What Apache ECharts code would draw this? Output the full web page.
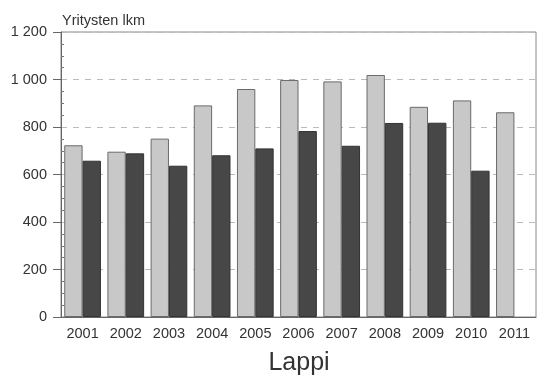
<!DOCTYPE html>
<html><head><meta charset="utf-8">
<script src="https://cdn.jsdelivr.net/npm/echarts@6/dist/echarts.min.js"></script>
<style>html,body{margin:0;padding:0;background:#fff}#c{width:540px;height:379px}</style>
</head><body><div id="c"></div>
<script>
const categories = ['2001','2002','2003','2004','2005','2006','2007','2008','2009','2010','2011'];
const seriesLight = [723, 696, 751, 891, 960, 998, 992, 1019, 885, 912, 862];
const seriesDark = [658, 689, 637, 681, 710, 783, 721, 817, 818, 616, null];
const yTicks = [0, 200, 400, 600, 800, 1000, 1200];

const fmt = v => String(v).replace(/\B(?=(\d{3})+(?!\d))/g, ' ');
const chart = echarts.init(document.getElementById('c'));
chart.setOption({
  animation: false,
  backgroundColor: '#fff',
  title: [
    {text: 'Yritysten lkm', left: 57, top: 8, textStyle: {fontFamily: 'Liberation Sans, Arial', fontSize: 14.5, fontWeight: 'normal', color: '#333'}},
    {text: 'Lappi', left: 294, top: 346, textAlign: 'center', textStyle: {fontFamily: 'Liberation Sans, Arial', fontSize: 25, fontWeight: 'normal', color: '#333'}}
  ],
  grid: {left: 61, right: 4, top: 32, bottom: 62, show: true, borderColor: '#888', borderWidth: 1},
  xAxis: {
    type: 'category', data: categories,
    axisLine: {lineStyle: {color: '#666'}},
    axisTick: {show: false},
    axisLabel: {fontFamily: 'Liberation Sans, Arial', fontSize: 14.5, color: '#333', margin: 9}
  },
  yAxis: [{
    type: 'value', min: 0, max: 1200, interval: 200,
    axisLine: {show: true, lineStyle: {color: '#666'}},
    axisTick: {show: true, inside: false, length: 8, lineStyle: {color: '#666'}},
    axisLabel: {fontFamily: 'Liberation Sans, Arial', fontSize: 14.5, color: '#333', margin: 14,
      formatter: v => yTicks.includes(v) ? fmt(v) : ''},
    splitLine: {show: true, lineStyle: {color: '#bbb', type: [6, 6]}}
  }, {
    type: 'value', min: 0, max: 1200, interval: 200, position: 'left',
    axisLine: {show: false},
    axisTick: {show: false, inside: true},
    minorTick: {show: true, splitNumber: 4, length: 3, lineStyle: {color: '#777'}},
    axisLabel: {show: false},
    splitLine: {show: false}
  }],
  series: [
    {type: 'bar', data: seriesLight, barGap: '0%', barCategoryGap: '15%',
     itemStyle: {color: '#c8c8c8', borderColor: '#6a6a6a', borderWidth: 1}},
    {type: 'bar', data: seriesDark,
     itemStyle: {color: '#474747', borderColor: '#333', borderWidth: 1}}
  ]
});
</script></body></html>
